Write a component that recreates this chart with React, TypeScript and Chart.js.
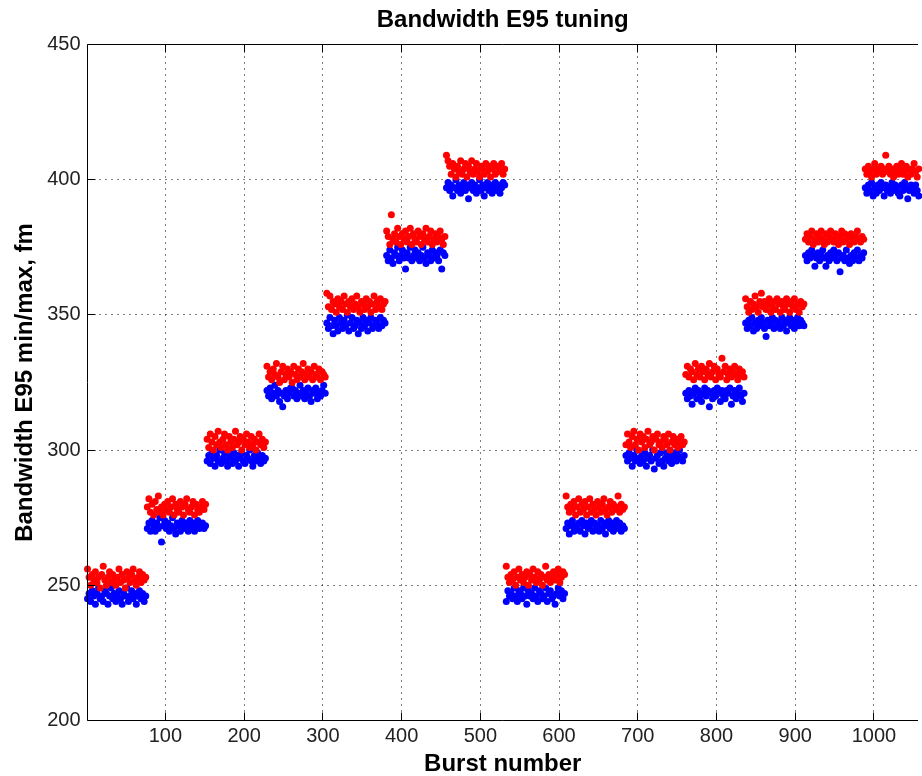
import React, { useEffect, useRef } from 'react';
import { Chart, registerables } from 'chart.js';

Chart.register(...registerables);

const chartTitle = 'Bandwidth E95 tuning';
const xAxisTitle = 'Burst number';
const yAxisTitle = 'Bandwidth E95 min/max, fm';

const xTickValues = [100, 200, 300, 400, 500, 600, 700, 800, 900, 1000];
const yTickValues = [200, 250, 300, 350, 400, 450];
const xMin = 1;
const xMax = 1056;
const yMin = 200;
const yMax = 450;

// bursts per tuning step, and the burst spacing of the listed samples
const burstsPerStep = 76;
const sampleEvery = 2;

// max (red) per tuning step
const maxStep1 = [256, 253, 250, 254, 252, 255, 251, 253, 249, 254, 257, 252, 250, 253, 255, 251, 254, 252, 250, 253, 256, 251, 254, 252, 249, 255, 253, 251, 254, 256, 252, 250, 253, 255, 251, 254, 252, 253];
const maxStep2 = [279, 282, 277, 280, 276, 281, 278, 283, 277, 279, 276, 280, 278, 281, 277, 279, 282, 276, 280, 278, 277, 281, 279, 276, 280, 282, 278, 277, 279, 281, 276, 280, 278, 277, 279, 281, 278, 280];
const maxStep3 = [304, 301, 306, 303, 300, 305, 302, 307, 303, 301, 304, 306, 302, 300, 305, 303, 301, 304, 307, 302, 303, 305, 300, 304, 302, 306, 303, 301, 305, 302, 304, 300, 303, 306, 302, 304, 301, 303];
const maxStep4 = [331, 327, 329, 326, 330, 328, 332, 327, 325, 329, 331, 326, 328, 330, 327, 329, 325, 331, 328, 326, 330, 327, 329, 332, 326, 328, 330, 327, 329, 326, 331, 328, 327, 330, 326, 329, 328, 327];
const maxStep5 = [358, 353, 357, 352, 355, 354, 351, 356, 353, 355, 352, 357, 354, 351, 355, 353, 356, 352, 354, 357, 353, 351, 355, 354, 352, 356, 353, 355, 351, 354, 357, 352, 355, 353, 356, 352, 354, 355];
const maxStep6 = [381, 379, 376, 387, 378, 380, 377, 382, 379, 376, 380, 378, 381, 377, 379, 382, 376, 380, 378, 377, 381, 379, 376, 380, 378, 382, 377, 379, 381, 376, 378, 380, 377, 379, 381, 378, 376, 379];
const maxStep7 = [409, 407, 405, 402, 406, 404, 401, 405, 403, 407, 402, 404, 406, 401, 405, 403, 407, 402, 404, 406, 403, 401, 405, 404, 402, 406, 403, 405, 401, 404, 406, 402, 405, 403, 404, 406, 402, 404];
const maxStep8 = [257, 253, 251, 254, 252, 255, 250, 253, 256, 252, 254, 251, 253, 255, 250, 254, 252, 256, 253, 251, 255, 252, 254, 250, 253, 257, 252, 254, 251, 253, 255, 252, 254, 256, 251, 253, 255, 254];
const maxStep9 = [283, 279, 277, 280, 278, 281, 276, 279, 282, 277, 280, 278, 281, 276, 279, 282, 277, 280, 278, 276, 281, 279, 277, 280, 282, 278, 276, 279, 281, 277, 280, 278, 279, 283, 277, 280, 278, 279];
const maxStep10 = [302, 306, 303, 301, 305, 307, 302, 304, 300, 306, 303, 305, 301, 304, 307, 302, 303, 305, 300, 304, 306, 302, 303, 301, 305, 304, 302, 306, 300, 303, 305, 302, 304, 301, 303, 305, 302, 303];
const maxStep11 = [328, 331, 327, 330, 329, 326, 332, 328, 330, 327, 331, 329, 326, 330, 328, 332, 327, 329, 331, 326, 330, 328, 327, 334, 329, 331, 326, 328, 330, 327, 329, 331, 328, 326, 330, 328, 329, 327];
const maxStep12 = [356, 353, 351, 355, 352, 354, 357, 353, 351, 355, 358, 353, 355, 352, 354, 356, 351, 353, 355, 352, 356, 354, 351, 355, 353, 352, 356, 354, 351, 355, 353, 356, 352, 354, 351, 355, 353, 354];
const maxStep13 = [378, 380, 377, 379, 381, 376, 378, 380, 377, 379, 381, 378, 376, 380, 377, 379, 381, 378, 377, 380, 378, 376, 379, 381, 377, 380, 378, 379, 376, 380, 378, 377, 379, 381, 378, 377, 379, 378];
const maxStep14 = [404, 402, 405, 403, 401, 404, 406, 402, 404, 403, 405, 402, 404, 409, 403, 405, 402, 404, 401, 403, 405, 402, 404, 406, 402, 403, 405, 401, 404, 402, 404, 406, 403, 401, 404, 402, 405, 403];

// min (blue) per tuning step
const minStep1 = [245, 247, 244, 248, 246, 243, 247, 249, 245, 246, 244, 248, 247, 243, 246, 249, 245, 247, 244, 246, 248, 245, 243, 247, 246, 249, 244, 246, 248, 245, 247, 243, 246, 248, 245, 247, 244, 246];
const minStep2 = [271, 273, 270, 274, 272, 270, 273, 271, 275, 266, 272, 274, 271, 273, 270, 272, 275, 271, 269, 273, 272, 270, 274, 271, 273, 272, 270, 274, 271, 273, 270, 272, 274, 271, 272, 273, 271, 272];
const minStep3 = [296, 298, 295, 299, 297, 294, 298, 296, 300, 295, 297, 299, 296, 294, 298, 297, 295, 299, 296, 298, 294, 297, 299, 296, 295, 298, 297, 300, 296, 294, 298, 296, 299, 297, 295, 298, 296, 297];
const minStep4 = [322, 320, 323, 319, 321, 324, 320, 322, 318, 321, 316, 320, 322, 319, 321, 323, 323, 320, 322, 319, 321, 324, 320, 322, 319, 321, 323, 320, 318, 322, 321, 323, 319, 321, 320, 322, 324, 321];
const minStep5 = [347, 345, 349, 346, 343, 348, 346, 344, 349, 347, 345, 348, 346, 350, 344, 347, 349, 345, 346, 348, 343, 347, 345, 349, 346, 348, 344, 347, 349, 345, 346, 348, 347, 345, 349, 346, 348, 347];
const minStep6 = [372, 370, 374, 371, 369, 373, 372, 375, 370, 372, 374, 371, 367, 373, 371, 375, 370, 372, 374, 371, 373, 370, 372, 375, 371, 369, 373, 372, 370, 374, 371, 373, 372, 370, 374, 367, 373, 372];
const minStep7 = [397, 399, 396, 398, 394, 397, 400, 396, 398, 395, 397, 399, 396, 398, 393, 397, 399, 396, 398, 395, 397, 400, 396, 398, 394, 397, 399, 396, 398, 395, 397, 399, 396, 398, 395, 397, 399, 398];
const minStep8 = [244, 248, 246, 247, 245, 249, 246, 244, 248, 247, 245, 249, 246, 243, 248, 246, 247, 245, 249, 246, 244, 248, 247, 245, 246, 249, 244, 247, 248, 245, 246, 243, 247, 249, 246, 248, 245, 247];
const minStep9 = [271, 273, 269, 272, 274, 270, 272, 271, 273, 270, 274, 272, 269, 273, 271, 272, 274, 270, 273, 271, 272, 270, 274, 271, 273, 269, 272, 274, 271, 273, 270, 272, 274, 271, 273, 270, 272, 271];
const minStep10 = [298, 296, 299, 297, 294, 298, 296, 300, 297, 295, 298, 296, 299, 294, 297, 298, 296, 300, 293, 297, 298, 295, 299, 296, 294, 297, 299, 296, 298, 295, 297, 299, 296, 298, 300, 297, 296, 298];
const minStep11 = [321, 319, 322, 320, 317, 321, 323, 319, 322, 320, 318, 321, 323, 320, 322, 316, 321, 319, 322, 320, 323, 321, 318, 322, 320, 319, 322, 321, 323, 317, 320, 322, 319, 321, 323, 320, 318, 321];
const minStep12 = [347, 345, 348, 346, 349, 344, 347, 345, 348, 346, 349, 347, 345, 342, 348, 346, 347, 349, 345, 348, 346, 347, 345, 349, 346, 348, 344, 347, 349, 346, 348, 345, 347, 349, 346, 348, 347, 346];
const minStep13 = [372, 370, 373, 371, 374, 372, 368, 371, 373, 370, 372, 374, 371, 368, 372, 370, 373, 371, 374, 372, 370, 373, 366, 371, 372, 370, 374, 371, 369, 372, 370, 373, 371, 374, 370, 372, 371, 373];
const minStep14 = [397, 395, 398, 396, 399, 394, 397, 395, 398, 396, 399, 397, 394, 398, 396, 397, 395, 399, 396, 398, 397, 395, 394, 398, 396, 399, 397, 393, 396, 398, 397, 395, 398, 396, 394, 397, 395, 397];

const maxSteps = [maxStep1, maxStep2, maxStep3, maxStep4, maxStep5, maxStep6, maxStep7, maxStep8, maxStep9, maxStep10, maxStep11, maxStep12, maxStep13, maxStep14];
const minSteps = [minStep1, minStep2, minStep3, minStep4, minStep5, minStep6, minStep7, minStep8, minStep9, minStep10, minStep11, minStep12, minStep13, minStep14];

function toPoints(steps: number[][]) {
  const pts: { x: number; y: number }[] = [];
  steps.forEach((vals, k) => {
    vals.forEach((v, j) => {
      pts.push({ x: k * burstsPerStep + j * sampleEvery + 1, y: v });
    });
  });
  return pts;
}

const FONT = '"Liberation Sans", Arial, Helvetica, sans-serif';

const framePlugin = {
  id: 'matlabFrame',
  beforeDatasetsDraw(chart: any) {
    const { ctx, chartArea: a, scales } = chart;
    const xs = scales.x;
    const ys = scales.y;
    ctx.save();
    ctx.strokeStyle = '#000';
    ctx.lineWidth = 1;
    ctx.setLineDash([1, 5]);
    ctx.beginPath();
    for (const v of xTickValues) {
      const px = Math.floor(xs.getPixelForValue(v)) + 0.5;
      ctx.moveTo(px, a.top);
      ctx.lineTo(px, a.bottom);
    }
    for (const v of yTickValues) {
      if (v === yMin || v === yMax) continue;
      const py = Math.floor(ys.getPixelForValue(v)) + 0.5;
      ctx.moveTo(a.left, py);
      ctx.lineTo(a.right, py);
    }
    ctx.stroke();
    ctx.restore();
  },
  afterDatasetsDraw(chart: any) {
    const { ctx, chartArea: a, scales } = chart;
    const xs = scales.x;
    const ys = scales.y;
    const left = Math.floor(a.left) + 0.5;
    const top = Math.floor(a.top) + 0.5;
    const bottom = Math.floor(a.bottom) + 0.5;
    ctx.save();
    ctx.strokeStyle = '#000';
    ctx.lineWidth = 1;
    ctx.setLineDash([]);
    ctx.beginPath();
    ctx.moveTo(left, top);
    ctx.lineTo(a.right, top);
    ctx.moveTo(left, top);
    ctx.lineTo(left, bottom);
    ctx.lineTo(a.right, bottom);
    for (const v of xTickValues) {
      const px = Math.floor(xs.getPixelForValue(v)) + 0.5;
      ctx.moveTo(px, bottom);
      ctx.lineTo(px, bottom - 8);
      ctx.moveTo(px, top);
      ctx.lineTo(px, top + 8);
    }
    for (const v of yTickValues) {
      const py = Math.floor(ys.getPixelForValue(v)) + 0.5;
      ctx.moveTo(left, py);
      ctx.lineTo(left + 8, py);
    }
    ctx.stroke();
    ctx.restore();
  },
};

export default function App() {
  const canvasRef = useRef<HTMLCanvasElement | null>(null);

  useEffect(() => {
    document.body.style.margin = '0';
    document.body.style.overflow = 'hidden';
    const canvas = canvasRef.current;
    if (!canvas) return;
    const chart = new Chart(canvas, {
      type: 'scatter',
      data: {
        datasets: [
          {
            label: 'max',
            data: toPoints(maxSteps),
            backgroundColor: '#ff0000',
            borderColor: '#ff0000',
            borderWidth: 0,
            pointStyle: 'circle',
            pointRadius: 3.5,
            clip: false,
          } as any,
          {
            label: 'min',
            data: toPoints(minSteps),
            backgroundColor: '#0000ff',
            borderColor: '#0000ff',
            borderWidth: 0,
            pointStyle: 'circle',
            pointRadius: 3.5,
            clip: false,
          } as any,
        ],
      },
      options: {
        animation: false,
        responsive: false,
        devicePixelRatio: 1,
        layout: { padding: 0 },
        events: [],
        plugins: {
          legend: { display: false },
          tooltip: { enabled: false },
          title: {
            display: true,
            text: chartTitle,
            fullSize: false,
            color: '#000',
            font: { family: FONT, size: 24, weight: 'bold', lineHeight: 1.2 },
            padding: { top: 6, bottom: 9.7 },
          },
        },
        scales: {
          x: {
            type: 'linear',
            min: xMin,
            max: xMax,
            afterFit: (s: any) => {
              s.height = 55.5;
            },
            afterBuildTicks: (s: any) => {
              s.ticks = xTickValues.map((v) => ({ value: v }));
            },
            grid: { display: false, drawTicks: false },
            border: { display: false },
            ticks: {
              autoSkip: false,
              maxRotation: 0,
              padding: 4,
              color: '#222',
              font: { family: FONT, size: 20 },
              callback: (v: any) => String(v),
            },
            title: {
              display: true,
              text: xAxisTitle,
              color: '#000',
              font: { family: FONT, size: 24, weight: 'bold', lineHeight: 1.2 },
              padding: { top: 0, bottom: -3 },
            },
          },
          y: {
            type: 'linear',
            min: yMin,
            max: yMax,
            afterFit: (s: any) => {
              s.width = 87.5;
            },
            afterBuildTicks: (s: any) => {
              s.ticks = yTickValues.map((v) => ({ value: v }));
            },
            grid: { display: false, drawTicks: false },
            border: { display: false },
            ticks: {
              autoSkip: false,
              padding: 7,
              color: '#222',
              font: { family: FONT, size: 20 },
              callback: (v: any) => String(v),
            },
            title: {
              display: true,
              text: yAxisTitle,
              color: '#000',
              font: { family: FONT, size: 24, weight: 'bold', lineHeight: 1.2 },
              padding: { top: 11, bottom: 0 },
            },
          },
        },
      } as any,
      plugins: [framePlugin],
    });
    return () => chart.destroy();
  }, []);

  return (
    <div style={{ width: 922, height: 776, position: 'relative', background: '#fff' }}>
      <canvas ref={canvasRef} width={922} height={776} style={{ display: 'block', width: 922, height: 776 }} />
    </div>
  );
}
